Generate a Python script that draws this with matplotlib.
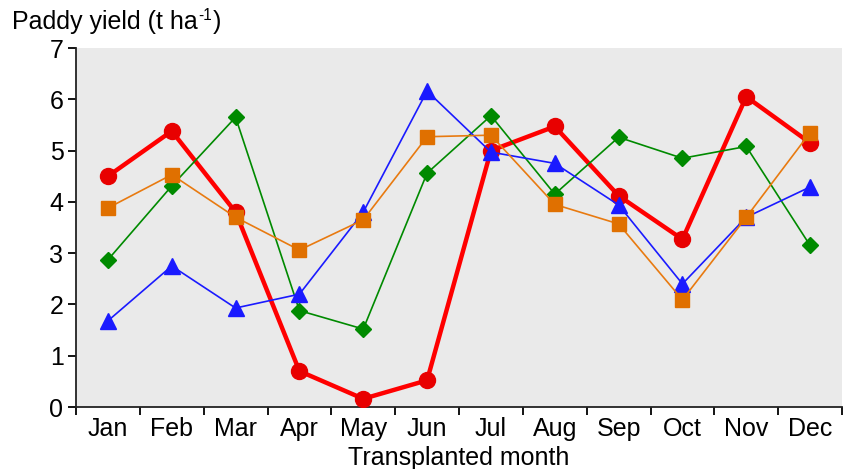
import matplotlib
matplotlib.use("Agg")
import matplotlib.pyplot as plt
import numpy as np

months = ["Jan", "Feb", "Mar", "Apr", "May", "Jun", "Jul", "Aug", "Sep", "Oct", "Nov", "Dec"]
red_vals = [4.50, 5.38, 3.80, 0.70, 0.16, 0.52, 5.00, 5.47, 4.12, 3.27, 6.05, 5.15]
orange_vals = [3.88, 4.53, 3.70, 3.06, 3.65, 5.27, 5.30, 3.95, 3.57, 2.09, 3.70, 5.35]
green_vals = [2.87, 4.31, 5.65, 1.88, 1.52, 4.56, 5.68, 4.15, 5.26, 4.85, 5.08, 3.15]
blue_vals = [1.68, 2.75, 1.93, 2.20, 3.80, 6.16, 4.97, 4.75, 3.94, 2.40, 3.70, 4.29]

plt.rcParams['font.family'] = ['Liberation Sans', 'DejaVu Sans']
FS = 18

fig = plt.figure(figsize=(8.49, 4.69), dpi=100)
ax = fig.add_axes([76/849, 1-407/469, (842-76)/849, (407-48)/469])
ax.set_facecolor('#eaeaea')

x = np.arange(len(months)) + 0.5

ax.plot(x, red_vals, color='#ff0000', lw=3.2, marker='o', ms=11.5,
        mfc='#e80000', mec='#e80000', zorder=3)
ax.plot(x, green_vals, color='#008a00', lw=1.2, marker='D', ms=8,
        mfc='#008a00', mec='#008a00', zorder=4)
ax.plot(x, blue_vals, color='#1a1aff', lw=1.2, marker='^', ms=11,
        mfc='#1a1aff', mec='#1a1aff', zorder=5)
ax.plot(x, orange_vals, color='#e87a10', lw=1.2, marker='s', ms=10,
        mfc='#e07000', mec='#e07000', zorder=6)

ax.set_xlim(0, 12)
ax.set_ylim(0, 7)
ax.set_xticks(np.arange(0, 13))
ax.set_xticklabels([])
ax.set_xticks(x, minor=True)
ax.set_xticklabels(months, minor=True, fontsize=FS)
ax.tick_params(axis='x', which='minor', length=0, pad=7)
ax.tick_params(axis='x', which='major', direction='out', length=6, width=1.3)
ax.set_yticks(range(0, 8))
ax.tick_params(axis='y', direction='out', length=6, width=1.3, labelsize=FS, pad=3)

for s in ['top', 'right']:
    ax.spines[s].set_visible(False)
for s in ['left', 'bottom']:
    ax.spines[s].set_linewidth(1.3)
    ax.spines[s].set_color('#222222')

# y label: "Paddy yield (t ha-1)" with raised -1
fig.canvas.draw()
r = fig.canvas.get_renderer()
t1 = fig.text(12/849, 1-22/469, "Paddy yield (t ha", fontsize=FS, ha='left', va='center')
bb = t1.get_window_extent(renderer=r)
t2 = fig.text((bb.x1 + 0.5)/849, 1-15/469, "-1", fontsize=FS*0.62, ha='left', va='center')
bb2 = t2.get_window_extent(renderer=r)
fig.text((bb2.x1 + 1)/849, 1-22/469, ")", fontsize=FS, ha='left', va='center')

fig.text(459/849, 1-458/469, "Transplanted month", fontsize=FS, ha='center', va='center')

fig.savefig("out.png", dpi=100)
